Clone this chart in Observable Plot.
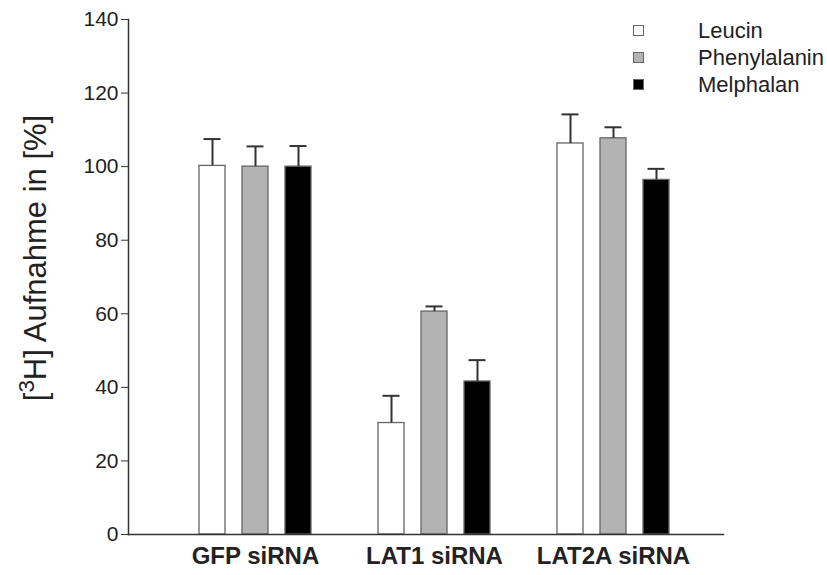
<!DOCTYPE html>
<html>
<head>
<meta charset="utf-8">
<script src="https://cdn.jsdelivr.net/npm/d3@7"></script>
<script src="https://cdn.jsdelivr.net/npm/@observablehq/plot@0.6"></script>
<style>
  html, body { margin: 0; padding: 0; background: #fff; }
  #wrap { position: relative; width: 827px; height: 575px; font-family: "Liberation Sans", Arial, sans-serif; }
  #ylabel { position: absolute; left: 35px; top: 258px; transform: translate(-50%, -50%) rotate(-90deg); white-space: nowrap; font-size: 31px; line-height: 1; color: #222; }
  #ylabel sup { font-size: 0.72em; vertical-align: 0.5em; line-height: 0; }
  #legend { position: absolute; left: 633px; top: 17px; font-size: 22px; color: #222; }
  .row { display: flex; align-items: center; height: 27px; }
  .sw { width: 9px; height: 9px; border: 1px solid #666; box-sizing: content-box; margin-right: 54px; }
</style>
</head>
<body>
<div id="wrap"></div>
<script>
const groups = ["GFP siRNA", "LAT1 siRNA", "LAT2A siRNA"];
const series = ["Leucin", "Phenylalanin", "Melphalan"];
const leucin = [100.2, 30.3, 106.3];
const leucinErr = [7.3, 7.4, 7.9];
const phenyl = [100.0, 60.6, 107.7];
const phenylErr = [5.5, 1.4, 3.0];
const melph = [100.0, 41.6, 96.4];
const melphErr = [5.6, 5.8, 3.0];
const fills = ["#ffffff", "#b3b3b3", "#000000"];
const yTicks = [0, 20, 40, 60, 80, 100, 120, 140];

const values = [leucin, phenyl, melph];
const errs = [leucinErr, phenylErr, melphErr];
const offsets = [-43, 0, 43]; // horizontal offset of each series within a group (style)

const marks = [];
series.forEach((s, si) => {
  const rows = groups.map((g, gi) => ({group: g, series: s, value: values[si][gi], top: values[si][gi] + errs[si][gi]}));
  marks.push(
    Plot.barY(rows, {x: "group", y: "value", fill: fills[si], stroke: "#666", strokeWidth: 1.3, dx: offsets[si]}),
    Plot.ruleX(rows, {x: "group", y1: "value", y2: "top", stroke: "#333", strokeWidth: 2, dx: offsets[si]}),
    Plot.tickY(rows, {x: "group", y: "top", stroke: "#333", strokeWidth: 2, insetLeft: 4.5, insetRight: 4.5, dx: offsets[si]})
  );
});

const chart = Plot.plot({
  width: 827,
  height: 575,
  marginLeft: 128,
  marginRight: 104,
  marginTop: 19,
  marginBottom: 41,
  style: {fontFamily: "Liberation Sans, Arial, sans-serif", color: "#222", background: "white"},
  x: {domain: groups, paddingInner: 0.856, paddingOuter: 0.581, align: 0.54, axis: null},
  y: {domain: [0, 140], axis: null},
  marks: [
    ...marks,
    Plot.axisY(yTicks, {anchor: "left", tickSize: 7, tickPadding: 3, fontSize: 21, stroke: "#333", label: null}),
    Plot.axisX({anchor: "bottom", tickSize: 0, tickPadding: 12, fontSize: 24, fontWeight: "bold", label: null}),
    Plot.frame({anchor: "left", stroke: "#333", strokeWidth: 1.5}),
    Plot.frame({anchor: "bottom", stroke: "#333", strokeWidth: 1.5})
  ]
});

const wrap = document.getElementById("wrap");
wrap.appendChild(chart);

const yl = document.createElement("div");
yl.id = "ylabel";
yl.innerHTML = "[<sup>3</sup>H] Aufnahme in [%]";
wrap.appendChild(yl);

const lg = document.createElement("div");
lg.id = "legend";
series.forEach((s, i) => {
  const r = document.createElement("div");
  r.className = "row";
  const sw = document.createElement("div");
  sw.className = "sw";
  sw.style.background = fills[i];
  r.appendChild(sw);
  const t = document.createElement("span");
  t.textContent = s;
  r.appendChild(t);
  lg.appendChild(r);
});
wrap.appendChild(lg);
</script>
</body>
</html>
